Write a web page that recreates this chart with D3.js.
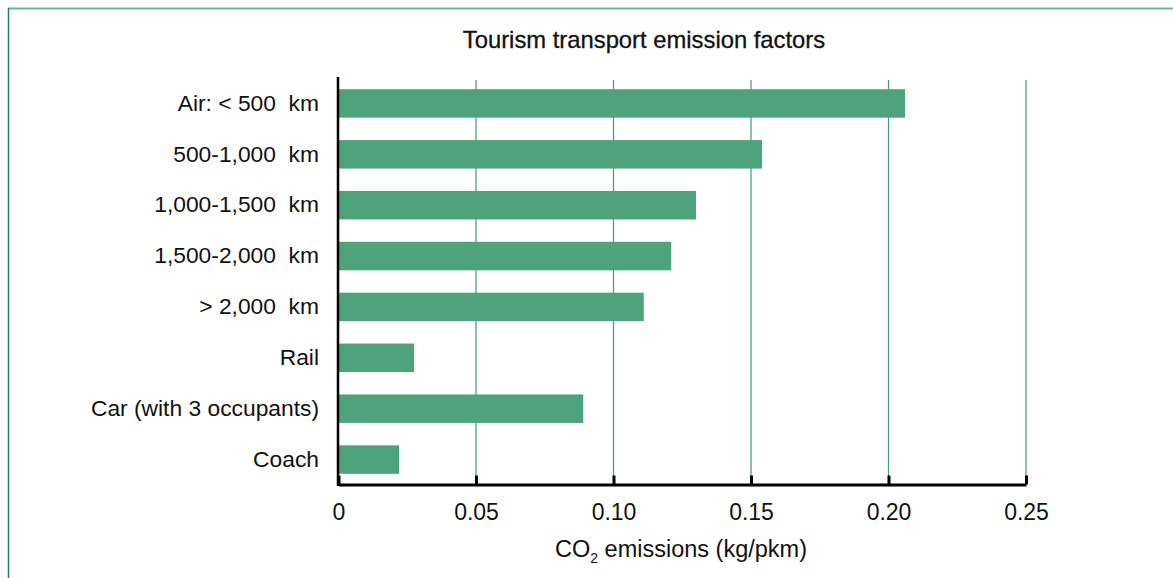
<!DOCTYPE html>
<html><head><meta charset="utf-8">
<script src="https://cdn.jsdelivr.net/npm/d3@7"></script>
<style>body{margin:0;background:#fff}svg{display:block;font-family:"Liberation Sans",Arial,sans-serif}text{white-space:pre}</style>
</head><body><svg id="c" width="1173" height="578"></svg>
<script>
const categories = ["Air: < 500  km","500-1,000  km","1,000-1,500  km","1,500-2,000  km","> 2,000  km","Rail","Car (with 3 occupants)","Coach"];
const values = [0.206,0.154,0.130,0.121,0.111,0.0275,0.089,0.022];
const xTicks = [0,0.05,0.10,0.15,0.20,0.25];
const xTickLabels = ["0","0.05","0.10","0.15","0.20","0.25"];
const title = "Tourism transport emission factors";

const svg = d3.select("#c");
const x = d3.scaleLinear().domain([0,0.25]).range([338.5,1026]);
const y = d3.scaleBand().domain(categories).range([78,485]).paddingInner(0.44).paddingOuter(0.22);

// frame
svg.append("line").attr("x1",8).attr("x2",1173).attr("y1",8.5).attr("y2",8.5).attr("stroke","#6cb693").attr("stroke-width",2);
svg.append("line").attr("x1",8.5).attr("x2",8.5).attr("y1",8).attr("y2",578).attr("stroke","#1f8550").attr("stroke-width",1.5);

// title
svg.append("text").attr("x",644).attr("y",48).attr("text-anchor","middle").attr("font-size",23.8).attr("fill","#111").attr("stroke","#111").attr("stroke-width",0.3).text(title);

// gridlines
svg.append("g").selectAll("line").data(xTicks.slice(1)).join("line")
  .attr("x1",d=>x(d)).attr("x2",d=>x(d)).attr("y1",80).attr("y2",484)
  .attr("stroke","#3f9d70").attr("stroke-width",1.2);

// bars
svg.append("g").selectAll("rect").data(values).join("rect")
  .attr("x",x(0)).attr("y",(d,i)=>y(categories[i])).attr("width",d=>x(d)-x(0)).attr("height",y.bandwidth())
  .attr("fill","#4ea27c");

// x axis
const xa = svg.append("g").attr("transform","translate(0,484.5)")
  .call(d3.axisBottom(x).tickValues(xTicks).tickFormat((d,i)=>xTickLabels[i]).tickSizeInner(-9).tickSizeOuter(0).tickPadding(18));
xa.select(".domain").attr("stroke","#000").attr("stroke-width",3);
xa.selectAll(".tick line").attr("stroke","#000").attr("stroke-width",3);
xa.selectAll(".tick text").attr("font-size",23).attr("fill","#111").attr("font-family","Liberation Sans, Arial, sans-serif").attr("dy","0.75em");

// y axis
const ya = svg.append("g").attr("transform","translate(338,0)")
  .call(d3.axisLeft(y).tickSize(0).tickPadding(19));
ya.select(".domain").attr("stroke","#000").attr("stroke-width",2.5).attr("d","M0,77V486");
ya.selectAll(".tick text").attr("font-size",22.8).attr("fill","#111").attr("font-family","Liberation Sans, Arial, sans-serif");

// x axis title
const t = svg.append("text").attr("x",681).attr("y",557).attr("text-anchor","middle").attr("font-size",23.5).attr("fill","#111");
t.append("tspan").text("CO");
t.append("tspan").attr("font-size",14).attr("dy",6).text("2");
t.append("tspan").attr("dy",-6).text(" emissions (kg/pkm)");
</script></body></html>
